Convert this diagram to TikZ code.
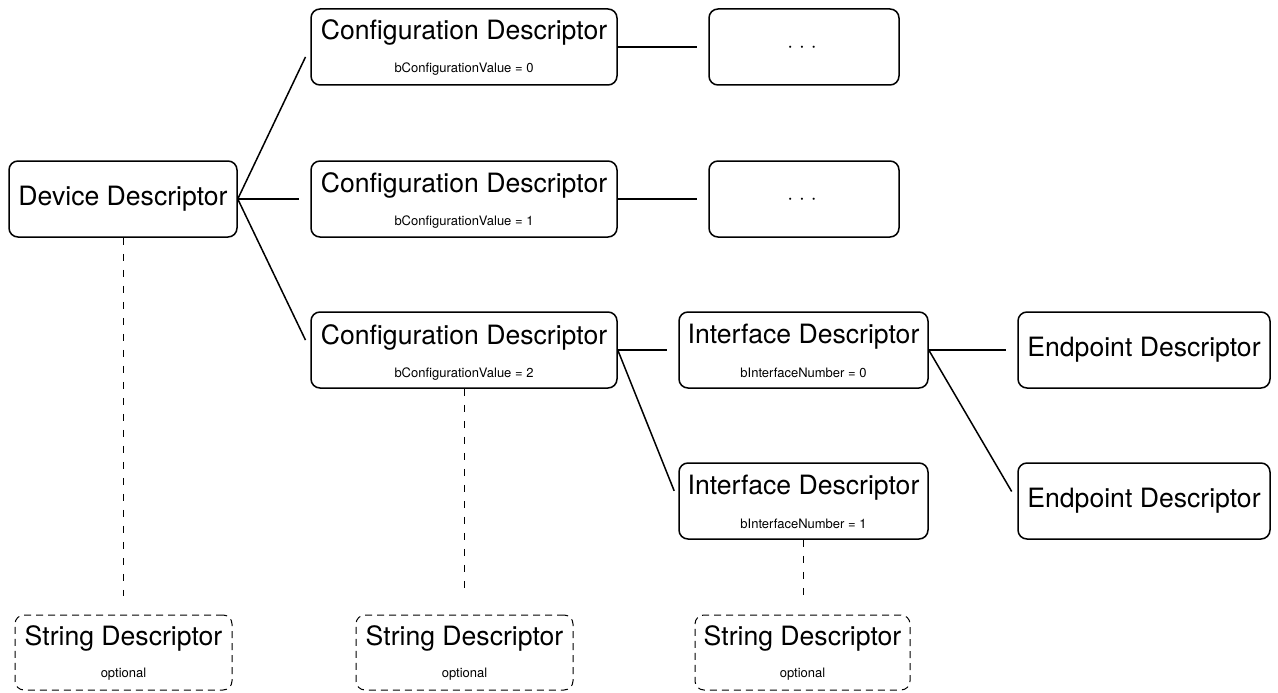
\documentclass[tikz,border=0pt]{standalone}
\usepackage{fontspec}
\setmainfont{TeX Gyre Heros}
\usetikzlibrary{calc}
\begin{document}
\begin{tikzpicture}[x=1pt,y=-1pt,
  descbox/.style={draw, rounded corners=9pt, line width=1.5pt, inner sep=0pt, minimum height=76pt},
  optbox/.style={descbox, line width=1pt, dash pattern=on 7pt off 5pt},
  ttl/.style={anchor=base, inner sep=0pt, font=\fontsize{26.6}{30}\selectfont},
  sub/.style={anchor=base, inner sep=0pt, font=\fontsize{13}{15}\selectfont},
  dots/.style={anchor=base, inner sep=0pt, font=\fontsize{21}{24}\selectfont},
  link/.style={line width=1.5pt, shorten >=11pt},
  optlink/.style={line width=1pt, dash pattern=on 7pt off 9pt, shorten >=19pt}
]
\useasboundingbox (0,0) rectangle (1278,693);

% device
\node[descbox, minimum width=228pt] (dev) at (123,199) {};
\node[ttl] (devt) at (123,205) {Device Descriptor};

% configurations
\node[descbox, minimum width=306pt] (c0) at (464,47) {};
\node[ttl] (c0t) at (464,40) {Configuration Descriptor};
\node[sub] (c0s) at (464,73) {bConfigurationValue = 0};

\node[descbox, minimum width=306pt] (c1) at (464,199) {};
\node[ttl] (c1t) at (464,192) {Configuration Descriptor};
\node[sub] (c1s) at (464,225) {bConfigurationValue = 1};

\node[descbox, minimum width=306pt] (c2) at (464,350) {};
\node[ttl] (c2t) at (464,344) {Configuration Descriptor};
\node[sub] (c2s) at (464,377) {bConfigurationValue = 2};

% elided subtrees
\node[descbox, minimum width=190pt] (d0) at (804,47) {};
\node[dots] (d0t) at (802,52.5) {· · ·};
\node[descbox, minimum width=190pt] (d1) at (804,199) {};
\node[dots] (d1t) at (802,204) {· · ·};

% interfaces
\node[descbox, minimum width=249pt] (i0) at (803.5,350) {};
\node[ttl] (i0t) at (803.5,343) {Interface Descriptor};
\node[sub] (i0s) at (803.5,377) {bInterfaceNumber = 0};

\node[descbox, minimum width=249pt] (i1) at (803.5,501) {};
\node[ttl] (i1t) at (803.5,494) {Interface Descriptor};
\node[sub] (i1s) at (803.5,528) {bInterfaceNumber = 1};

% endpoints
\node[descbox, minimum width=252pt] (e0) at (1144,350) {};
\node[ttl] (e0t) at (1144,356) {Endpoint Descriptor};
\node[descbox, minimum width=252pt] (e1) at (1144,501) {};
\node[ttl] (e1t) at (1144,507) {Endpoint Descriptor};

% optional strings
\node[optbox, minimum width=217pt, minimum height=75pt] (s0) at (123.5,652.5) {};
\node[ttl] (s0t) at (123.5,645) {String Descriptor};
\node[sub] (s0s) at (123.5,677) {optional};

\node[optbox, minimum width=217pt, minimum height=75pt] (s1) at (464.5,652.5) {};
\node[ttl] (s1t) at (464.5,645) {String Descriptor};
\node[sub] (s1s) at (464.5,677) {optional};

\node[optbox, minimum width=215pt, minimum height=75pt] (s2) at (802.5,652.5) {};
\node[ttl] (s2t) at (802.5,645) {String Descriptor};
\node[sub] (s2s) at (802.5,677) {optional};

% tree connectors
\draw[link] (dev.east) -- (c0.west);
\draw[link] (dev.east) -- (c1.west);
\draw[link] (dev.east) -- (c2.west);
\draw[link] (c0.east) -- (d0.west);
\draw[link] (c1.east) -- (d1.west);
\draw[link] (c2.east) -- (i0.west);
\draw[link] (c2.east) -- (i1.west);
\draw[link] (i0.east) -- (e0.west);
\draw[link] (i0.east) -- (e1.west);

% optional string links
\draw[optlink] (dev.south) -- (dev.south |- s0.north);
\draw[optlink] (c2.south) -- (c2.south |- s1.north);
\draw[optlink] (i1.south) -- (i1.south |- s2.north);
\end{tikzpicture}
\end{document}
